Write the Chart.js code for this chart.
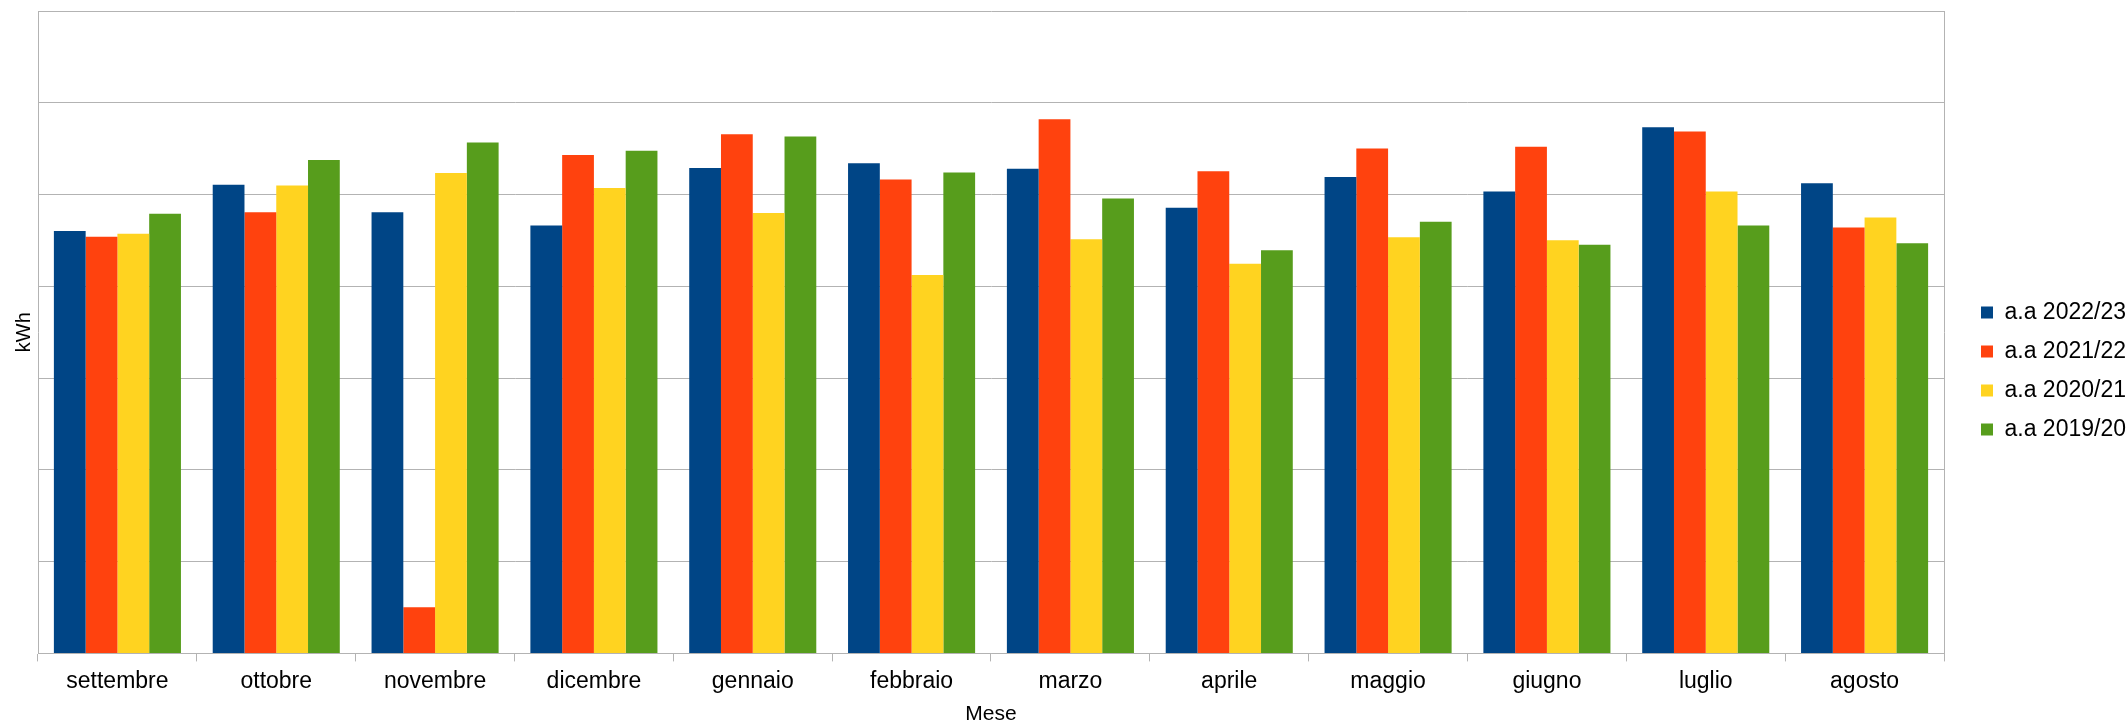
<!DOCTYPE html>
<html lang="it">
<head>
<meta charset="utf-8">
<title>Consumi mensili kWh</title>
<script src="https://cdn.jsdelivr.net/npm/chart.js@4/dist/chart.umd.min.js"></script>
<style>
    html, body { margin: 0; padding: 0; background: #ffffff; }
    #wrap { width: 2127px; height: 725px; }
</style>
</head>
<body>
<div id="wrap"><canvas id="consumiChart"></canvas></div>
<script>
// mesi dell'anno accademico
const months = ["settembre", "ottobre", "novembre", "dicembre", "gennaio", "febbraio",
    "marzo", "aprile", "maggio", "giugno", "luglio", "agosto"];

// kWh per anno accademico
const aa2223 = [23020, 25540, 24030, 23320, 26450, 26700, 26400, 24280, 25950, 25160, 28670, 25620];
const aa2122 = [22700, 24030, 2520, 27160, 28290, 25820, 29100, 26270, 27510, 27610, 28440, 23200];
const aa2021 = [22870, 25490, 26170, 25360, 24000, 20620, 22560, 21230, 22670, 22510, 25160, 23750];
const aa1920 = [23950, 26880, 27830, 27390, 28160, 26200, 24790, 21960, 23520, 22260, 23320, 22340];

const seriesLabels = ["a.a 2022/23", "a.a 2021/22", "a.a 2020/21", "a.a 2019/20"];
const seriesColors = ["#004586", "#ff420e", "#ffd320", "#579d1c"];

const yMax = 35000;
const yStep = 5000;

const gridColor = "#b3b3b3";
Chart.defaults.font.family = "'Liberation Sans', Arial, sans-serif";
Chart.defaults.color = "#000000";

function makeDataset(label, data, color) {
    return {
        label: label,
        data: data,
        backgroundColor: color,
        borderWidth: 0,
        categoryPercentage: 0.8,
        barPercentage: 1.0,
    };
}

const ctx = document.getElementById("consumiChart").getContext("2d");
new Chart(ctx, {
    type: "bar",
    data: {
        labels: months,
        datasets: [
            makeDataset(seriesLabels[0], aa2223, seriesColors[0]),
            makeDataset(seriesLabels[1], aa2122, seriesColors[1]),
            makeDataset(seriesLabels[2], aa2021, seriesColors[2]),
            makeDataset(seriesLabels[3], aa1920, seriesColors[3]),
        ],
    },
    options: {
        responsive: true,
        maintainAspectRatio: false,
        animation: false,
        layout: {
            // bottom negativo: abbassa un po' la legenda centrata
            padding: { top: 11, left: 8, right: 0, bottom: -6 },
        },
        plugins: {
            tooltip: { enabled: false },
            legend: {
                position: "right",
                maxWidth: 162,
                labels: {
                    boxWidth: 12,
                    boxHeight: 12,
                    padding: 16,
                    font: { size: 23 },
                },
            },
        },
        scales: {
            x: {
                grid: {
                    drawOnChartArea: false,
                    drawTicks: true,
                    tickLength: 8,
                    color: gridColor,
                },
                border: { color: gridColor },
                ticks: {
                    font: { size: 23 },
                    padding: 6,
                    maxRotation: 0,
                },
                title: {
                    display: true,
                    text: "Mese",
                    font: { size: 21, lineHeight: 1 },
                    padding: { top: 3, bottom: 6 },
                },
            },
            y: {
                min: 0,
                max: yMax,
                grid: {
                    color: gridColor,
                    drawTicks: false,
                },
                border: { color: gridColor },
                ticks: {
                    display: false,
                    stepSize: yStep,
                },
                title: {
                    display: true,
                    text: "kWh",
                    font: { size: 20 },
                    padding: { top: 4, bottom: 2 },
                },
            },
            // asse fittizio a destra: chiude il riquadro del grafico
            y2: {
                position: "right",
                grid: { drawOnChartArea: false, drawTicks: false },
                border: { color: gridColor },
                ticks: { display: false },
                afterFit: function (scale) {
                    scale.width = 21;
                },
            },
        },
    },
});
</script>
</body>
</html>
